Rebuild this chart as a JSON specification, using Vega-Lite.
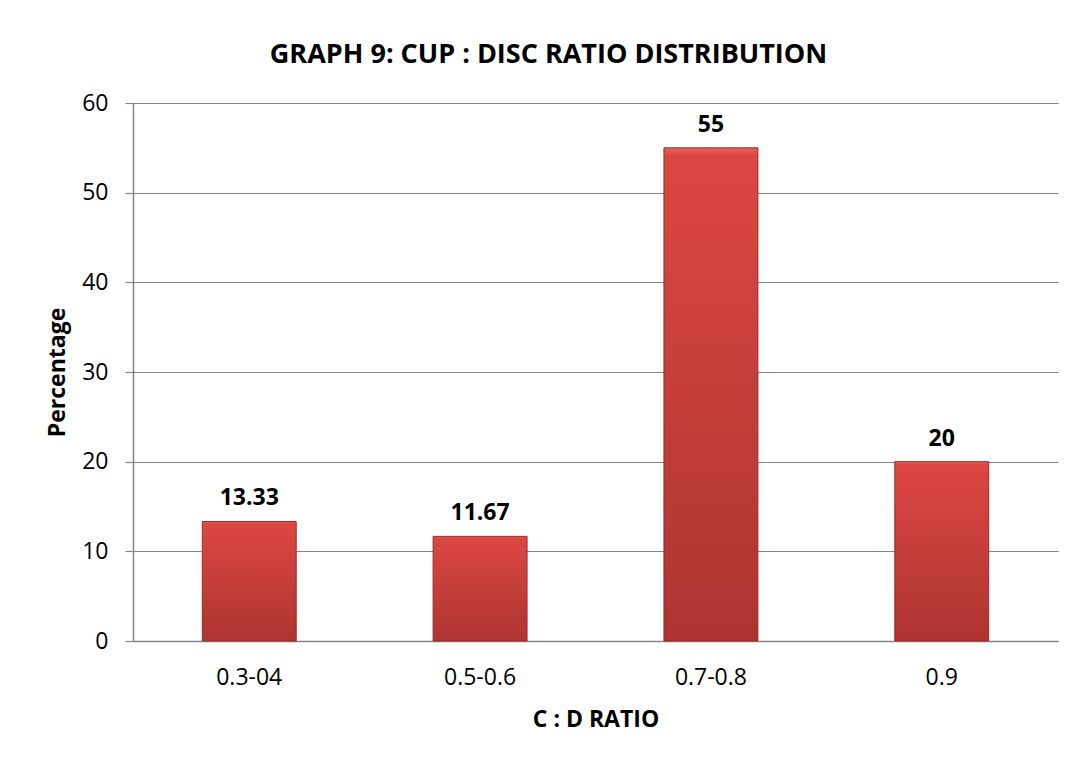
{
  "$schema": "https://vega.github.io/schema/vega-lite/v6.json",
  "width": 925,
  "height": 538,
  "autosize": {"type": "none"},
  "padding": {"left": 133, "top": 103, "right": 22, "bottom": 117},
  "background": "white",
  "title": {
    "text": "GRAPH 9: CUP : DISC RATIO DISTRIBUTION",
    "anchor": "middle",
    "frame": "group",
    "orient": "top",
    "font": "Open Sans",
    "fontSize": 27,
    "fontWeight": "bold",
    "color": "#000000",
    "baseline": "alphabetic",
    "offset": 2,
    "dx": -47
  },
  "data": {
    "values": [
      {"ratio": "0.3-04", "percentage": 13.33},
      {"ratio": "0.5-0.6", "percentage": 11.67},
      {"ratio": "0.7-0.8", "percentage": 55},
      {"ratio": "0.9", "percentage": 20}
    ]
  },
  "config": {
    "view": {"stroke": null},
    "font": "Open Sans",
    "axis": {
      "labelFont": "Open Sans",
      "labelFontSize": 23,
      "labelColor": "#000000",
      "titleFont": "Open Sans",
      "titleFontSize": 23,
      "titleFontWeight": "bold",
      "titleColor": "#000000",
      "domainColor": "#868686",
      "tickColor": "#868686",
      "gridColor": "#868686"
    }
  },
  "encoding": {
    "x": {
      "field": "ratio",
      "type": "nominal",
      "sort": null,
      "scale": {"paddingInner": 0.593, "paddingOuter": 0.3},
      "axis": {
        "title": "C : D RATIO",
        "labelAngle": 0,
        "ticks": false,
        "labelPadding": 25,
        "titlePadding": 19,
        "domainWidth": 1.5
      }
    },
    "y": {
      "field": "percentage",
      "type": "quantitative",
      "scale": {"domain": [0, 60], "nice": false},
      "axis": {
        "title": "Percentage",
        "values": [0, 10, 20, 30, 40, 50, 60],
        "tickSize": 8,
        "labelPadding": 17,
        "titlePadding": 12,
        "domainWidth": 1.5,
        "gridWidth": 1.2,
        "tickWidth": 1.2
      }
    }
  },
  "layer": [
    {
      "mark": {
        "type": "bar",
        "stroke": "#962D2A",
        "strokeWidth": 1,
        "color": {
          "gradient": "linear",
          "x1": 0, "y1": 0, "x2": 0, "y2": 1,
          "stops": [
            {"offset": 0, "color": "#E86560"},
            {"offset": 0.015, "color": "#DC4742"},
            {"offset": 1, "color": "#AD3431"}
          ]
        }
      }
    },
    {
      "mark": {
        "type": "text",
        "font": "Open Sans",
        "fontSize": 23,
        "fontWeight": "bold",
        "color": "#000000",
        "baseline": "alphabetic",
        "dy": -16
      },
      "encoding": {"text": {"field": "percentage", "type": "quantitative"}}
    }
  ]
}
